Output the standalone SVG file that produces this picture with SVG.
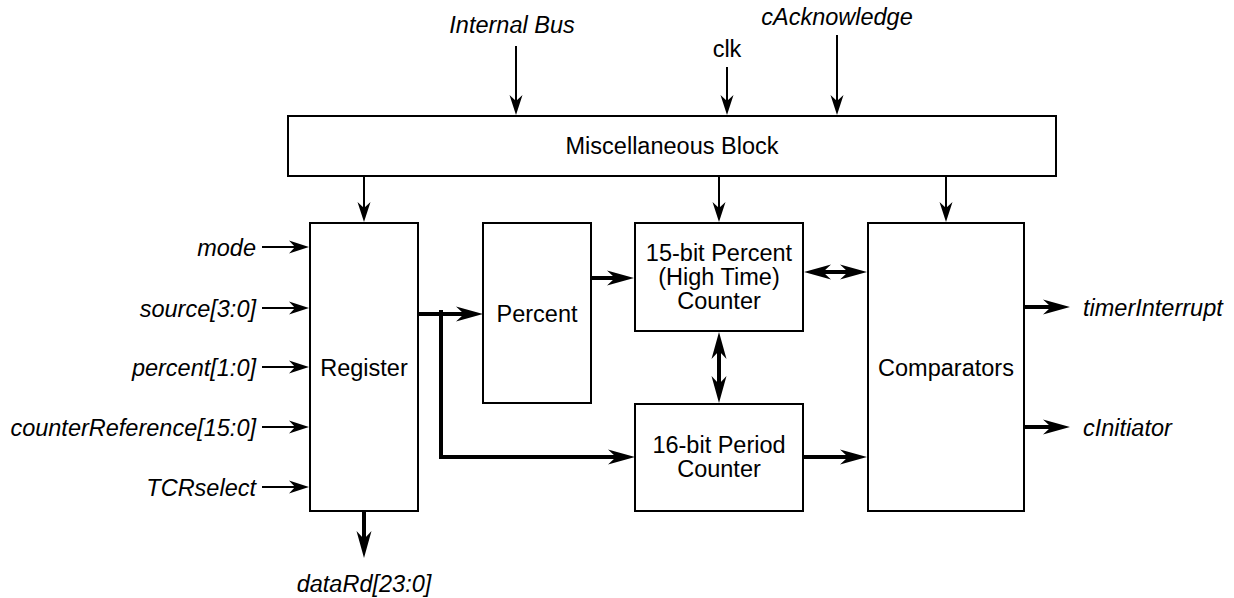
<svg xmlns="http://www.w3.org/2000/svg" width="1234" height="598" viewBox="0 0 1234 598">
<style>
text{font-family:"Liberation Sans",Arial,Helvetica,sans-serif;font-size:23.5px;fill:#000}
.it{font-style:italic}
.box{fill:#fff;stroke:#000;stroke-width:2}
.thin{stroke:#000;stroke-width:2;fill:none}
.thick{stroke:#000;stroke-width:4;fill:none}
</style>
<defs>
<marker id="ah" markerUnits="userSpaceOnUse" markerWidth="22" markerHeight="16" viewBox="0 -8 22 16" refX="8" refY="0" orient="auto-start-reverse">
<path d="M0,-6.5 L20,0 L0,6.5 L6,0 Z" fill="#000"/>
</marker>
<marker id="ahT" markerUnits="userSpaceOnUse" markerWidth="29" markerHeight="18" viewBox="0 -9 29 18" refX="10" refY="0" orient="auto-start-reverse">
<path d="M0,-7.5 L27,0 L0,7.5 L8,0 Z" fill="#000"/>
</marker>
</defs>
<g id="misc"><rect class="box" x="288" y="116" width="768" height="60"/><text x="672" y="154" text-anchor="middle">Miscellaneous Block</text></g>
<g id="register"><rect class="box" x="310" y="223" width="108" height="288"/><text x="364" y="376" text-anchor="middle">Register</text></g>
<g id="percent"><rect class="box" x="483" y="223" width="108" height="180"/><text x="537" y="322" text-anchor="middle">Percent</text></g>
<g id="pctcounter"><rect class="box" x="635" y="223" width="168" height="108"/><text x="719" y="261" text-anchor="middle">15-bit Percent</text><text x="719" y="285" text-anchor="middle">(High Time)</text><text x="719" y="309" text-anchor="middle">Counter</text></g>
<g id="periodcounter"><rect class="box" x="635" y="404" width="168" height="107"/><text x="719" y="453" text-anchor="middle">16-bit Period</text><text x="719" y="477" text-anchor="middle">Counter</text></g>
<g id="comparators"><rect class="box" x="868" y="223" width="156" height="288"/><text x="946" y="376" text-anchor="middle">Comparators</text></g>
<g id="labels">
<text class="it" x="512" y="33" text-anchor="middle">Internal Bus</text>
<text x="727" y="57" text-anchor="middle">clk</text>
<text class="it" x="837" y="25" text-anchor="middle">cAcknowledge</text>
<text class="it" x="256" y="255.5" text-anchor="end">mode</text>
<text class="it" x="256" y="316.5" text-anchor="end">source[3:0]</text>
<text class="it" x="256" y="375.5" text-anchor="end">percent[1:0]</text>
<text class="it" x="256" y="435.5" text-anchor="end">counterReference[15:0]</text>
<text class="it" x="256" y="495.5" text-anchor="end">TCRselect</text>
<text class="it" x="364" y="592" text-anchor="middle">dataRd[23:0]</text>
<text class="it" x="1083" y="315.5">timerInterrupt</text>
<text class="it" x="1083" y="435.5">cInitiator</text>
</g>
<g id="connectors">
<line class="thin" x1="516" y1="46" x2="516" y2="103" marker-end="url(#ah)"/>
<line class="thin" x1="727" y1="67" x2="727" y2="103" marker-end="url(#ah)"/>
<line class="thin" x1="837" y1="35" x2="837" y2="103" marker-end="url(#ah)"/>
<line class="thin" x1="364" y1="177" x2="364" y2="210" marker-end="url(#ah)"/>
<line class="thin" x1="719" y1="177" x2="719" y2="210" marker-end="url(#ah)"/>
<line class="thin" x1="946" y1="177" x2="946" y2="210" marker-end="url(#ah)"/>
<line class="thin" x1="262" y1="247" x2="297" y2="247" marker-end="url(#ah)"/>
<line class="thin" x1="262" y1="308" x2="297" y2="308" marker-end="url(#ah)"/>
<line class="thin" x1="262" y1="367" x2="297" y2="367" marker-end="url(#ah)"/>
<line class="thin" x1="262" y1="427" x2="297" y2="427" marker-end="url(#ah)"/>
<line class="thin" x1="262" y1="487" x2="297" y2="487" marker-end="url(#ah)"/>
<line class="thick" x1="364" y1="512" x2="364" y2="541" marker-end="url(#ahT)"/>
<line class="thick" x1="419" y1="314" x2="466" y2="314" marker-end="url(#ahT)"/>
<path class="thick" d="M441,310 V457 H618" marker-end="url(#ahT)"/>
<line class="thick" x1="592" y1="278" x2="617" y2="278" marker-end="url(#ahT)"/>
<line class="thick" x1="821" y1="272" x2="850" y2="272" marker-start="url(#ahT)" marker-end="url(#ahT)"/>
<line class="thick" x1="719" y1="349" x2="719" y2="386" marker-start="url(#ahT)" marker-end="url(#ahT)"/>
<line class="thick" x1="804" y1="457" x2="850" y2="457" marker-end="url(#ahT)"/>
<line class="thick" x1="1025" y1="307" x2="1053" y2="307" marker-end="url(#ahT)"/>
<line class="thick" x1="1025" y1="427" x2="1053" y2="427" marker-end="url(#ahT)"/>
</g>
</svg>
